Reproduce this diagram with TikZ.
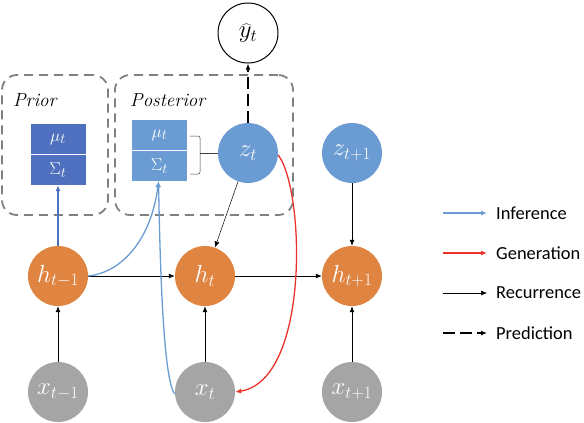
\documentclass[tikz,border=0pt]{standalone}
\usepackage{fontspec}
\newfontfamily\legendfont{Carlito}
\usetikzlibrary{arrows.meta}
\definecolor{orng}{HTML}{E08442}
\definecolor{gry}{HTML}{A5A5A5}
\definecolor{lblue}{HTML}{6A9BD2}
\definecolor{dblue}{HTML}{4F70BE}
\definecolor{ared}{HTML}{E8322A}
\definecolor{boxgray}{HTML}{808080}
\tikzset{
  circ/.style={circle, minimum size=60bp, inner sep=0pt, text=white, font=\fontsize{24}{27}\selectfont},
  hnode/.style={circ, fill=orng},
  xnode/.style={circ, fill=gry},
  znode/.style={circ, fill=lblue},
  ynode/.style={circle, minimum size=60bp, inner sep=0pt, draw=black, line width=1bp, font=\fontsize{24}{27}\selectfont},
  grpbox/.style={draw=boxgray, line width=1.8bp, dash pattern=on 9bp off 6bp, rounded corners=15bp, inner sep=0pt},
  parbox/.style={minimum width=55bp, minimum height=30bp, inner sep=0pt, text=white, font=\fontsize{19}{22}\selectfont},
  lbl/.style={font=\fontsize{19}{22}\selectfont\itshape, anchor=west, inner sep=0pt},
  rec/.style={-{Latex[length=6bp,width=5bp]}, line width=0.7bp, black},
  thinrec/.style={-{Latex[length=6bp,width=5bp]}, line width=0.5bp, black},
  inf/.style={-{Latex[length=6bp,width=5bp]}, line width=1.3bp, lblue},
  infd/.style={-{Latex[length=6bp,width=5bp]}, line width=1.5bp, dblue},
  gen/.style={-{Latex[length=6bp,width=5bp]}, line width=1.3bp, ared},
  pred/.style={-{Latex[length=6bp,width=5bp]}, line width=2.2bp, black, dash pattern=on 12bp off 5bp},
  brk/.style={line width=0.5bp, black!75, rounded corners=2bp},
  legtxt/.style={font=\legendfont\fontsize{18.5}{21}\selectfont, anchor=west, inner sep=0pt},
}
\begin{document}
\begin{tikzpicture}[x=1bp,y=-1bp]
\useasboundingbox (0,0) rectangle (584,422);

% group boxes
\node[grpbox, minimum width=106bp, minimum height=140bp] (priorbox) at (55,145) {};
\node[grpbox, minimum width=178bp, minimum height=140bp] (postbox) at (204,145) {};
\node[lbl] (priorlbl) at (13,100) {Prior};
\node[lbl] (postlbl) at (130,100) {Posterior};

% parameter boxes
\node[parbox, fill=dblue] (prmu) at (58,139) {$\mu_t$};
\node[parbox, fill=dblue] (prsig) at (58,170) {$\Sigma_t$};
\draw[white, line width=1.2bp] (prmu.south west) -- (prmu.south east);
\node[parbox, fill=lblue] (pmu) at (159.5,135) {$\mu_t$};
\node[parbox, fill=lblue] (psig) at (159.5,166) {$\Sigma_t$};
\draw[white, line width=1.2bp] (pmu.south west) -- (pmu.south east);

% nodes
\node[ynode] (yt) at (248,33) {$\widehat{y}_t$};
\node[znode] (zt) at (248,153) {$z_t$};
\node[znode] (ztp) at (352,153) {$z_{t+1}$};
\node[hnode] (hm) at (58,276) {$h_{t-1}$};
\node[hnode] (ht) at (205,276) {$h_t$};
\node[hnode] (hp) at (352,276) {$h_{t+1}$};
\node[xnode] (xm) at (58,392) {$x_{t-1}$};
\node[xnode] (xt) at (205,392) {$x_t$};
\node[xnode] (xp) at (352,392) {$x_{t+1}$};

% bracket
\coordinate (bmid) at (200,153);
\draw[brk] ([xshift=3bp,yshift=-1bp]pmu.east) -| (bmid) |- ([xshift=3bp,yshift=-8bp]psig.east);
\draw[brk] (bmid) -- (zt.west);

% recurrence
\draw[rec] (hm) -- (ht);
\draw[rec] (ht) -- (hp);
\draw[rec] (xm) -- (hm);
\draw[rec] (xt) -- (ht);
\draw[rec] (xp) -- (hp);
\draw[rec] (ztp) -- (hp);
\draw[thinrec] (zt) -- (ht);

% prediction
\draw[pred] (zt) -- (yt);

% inference
\draw[infd] (hm) -- (prsig);
\draw[inf] (hm.east) .. controls (125,272) and (152,235) .. ([xshift=-1bp]psig.south);
\draw[inf] ([yshift=-2bp]xt.west) .. controls (163,380) and (160,260) .. ([xshift=-1bp]psig.south);

% generation
\draw[gen] ([yshift=-2bp]zt.east) .. controls (305,190) and (310,380) .. (xt.east);

% legend
\coordinate (l1a) at (443,213); \coordinate (l1b) at (487,213);
\coordinate (l2a) at (443,253); \coordinate (l2b) at (487,253);
\coordinate (l3a) at (443,293); \coordinate (l3b) at (487,293);
\coordinate (l4a) at (443,333); \coordinate (l4b) at (487,333);
\draw[inf] (l1a) -- (l1b);
\draw[gen] (l2a) -- (l2b);
\draw[thinrec] (l3a) -- (l3b);
\draw[pred] (l4a) -- (l4b);
\node[legtxt] (t1) at (496,213) {Inference};
\node[legtxt] (t2) at (496,253) {Generation};
\node[legtxt] (t3) at (496,293) {Recurrence};
\node[legtxt] (t4) at (496,333) {Prediction};
\end{tikzpicture}
\end{document}
